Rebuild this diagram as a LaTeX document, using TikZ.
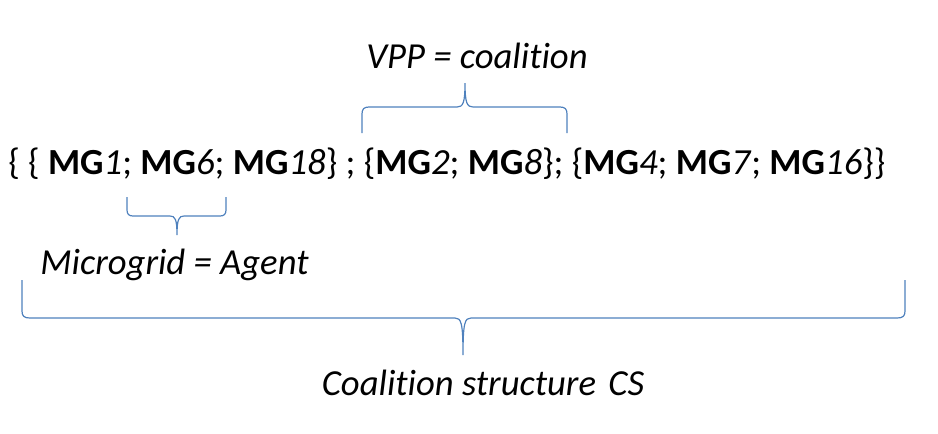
\documentclass[tikz,border=0pt]{standalone}
\usepackage{fontspec}
\setmainfont{Carlito}[Ligatures=NoCommon]
\usetikzlibrary{positioning}
\definecolor{bracec}{HTML}{4F81BD}
\tikzset{
  lbl/.style={font=\fontsize{27.5}{32}\selectfont\itshape, inner sep=0pt},
  setline/.style={font=\fontsize{27.6}{32}\selectfont, inner sep=0pt},
  brc/.style={draw=bracec, line width=0.9pt},
}
\newcommand{\mg}[1]{\textbf{MG}\textit{#1}}

\begin{document}
\begin{tikzpicture}[x=0.75pt, y=-0.75pt]
\useasboundingbox (0,0) rectangle (938,433);

\node[lbl, anchor=base] (vpp) at (477,68) {VPP = coalition};
\node[setline, anchor=base west] (cs) at (8,174)
  {\{ \{ \mg{1}; \mg{6}; \mg{18}\} ; \{\mg{2}; \mg{8}\}; \{\mg{4}; \mg{7}; \mg{16}\}\}};
\node[lbl, anchor=base west] (agent) at (40,274) {Microgrid = Agent};
\node[lbl, anchor=base] (struct) at (483,395) {Coalition structure\hspace{3pt} CS};

% coalition brace
\draw[brc] (362,133) -- (362,114) .. controls (362,109) and (364,107) .. (369,107)
  -- (457,107) .. controls (463,107) and (465,103) .. (465,83)
  .. controls (465,103) and (467,107) .. (473,107)
  -- (560,107) .. controls (565,107) and (567,109) .. (567,114) -- (567,133);
% agent brace
\draw[brc] (127,197) -- (127,210) .. controls (127,214) and (129,216) .. (133,216)
  -- (170,216) .. controls (175,216) and (177,219) .. (177,235)
  .. controls (177,219) and (179,216) .. (184,216)
  -- (220,216) .. controls (224,216) and (226,214) .. (226,210) -- (226,197);
% structure brace
\draw[brc] (22,280) -- (22,311) .. controls (22,316) and (24,318) .. (30,318)
  -- (455,318) .. controls (461,318) and (463,322) .. (463,355)
  .. controls (463,322) and (465,318) .. (471,318)
  -- (897,318) .. controls (903,318) and (905,316) .. (905,311) -- (905,280);
\end{tikzpicture}
\end{document}
